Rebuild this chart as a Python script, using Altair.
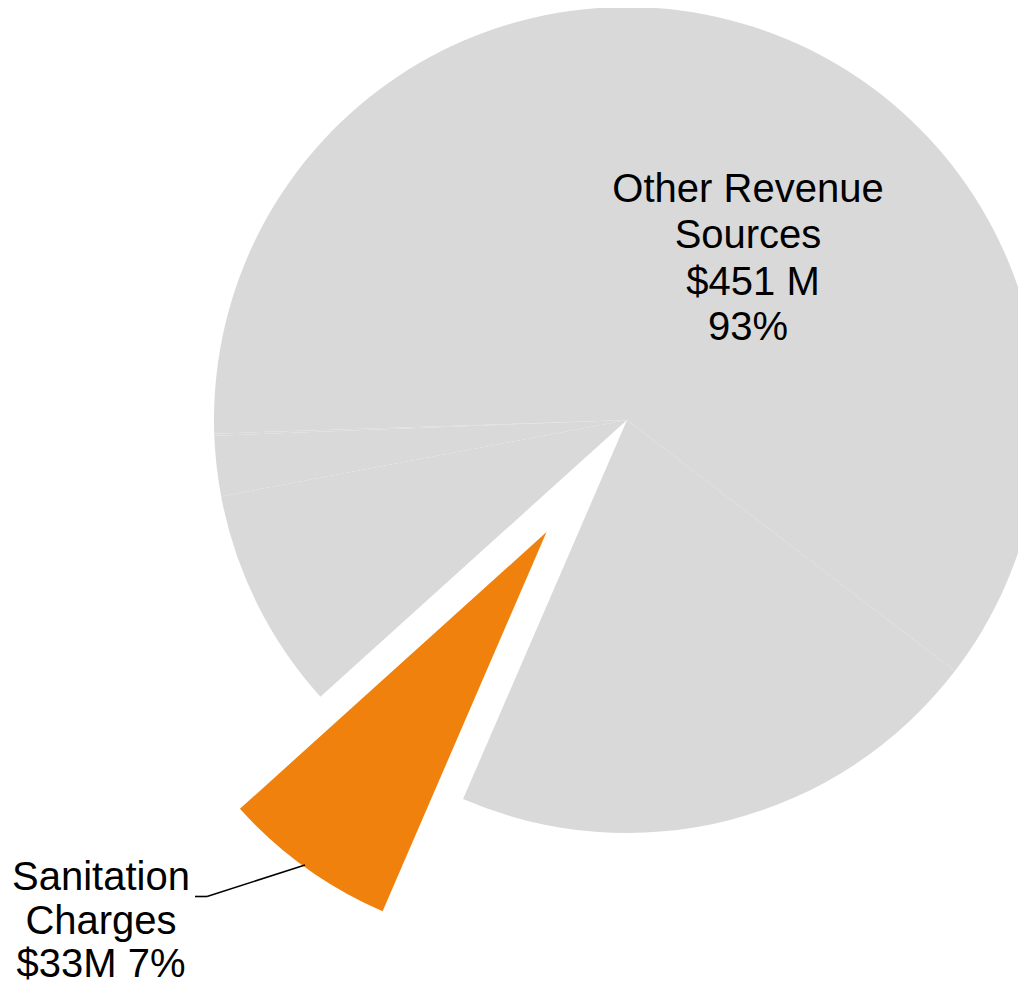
import math
import altair as alt
import pandas as pd

# ---- data ----
slice_names = ["Other A", "Other B", "Sanitation Charges", "Other C", "Other D", "Other E"]
slice_values = [294.9, 102.1, 33.0, 42.2, 11.4, 0.4]
slice_group = ["Other", "Other", "Sanitation", "Other", "Other", "Other"]

other_label_top = ["Other Revenue", "Sources"]
other_label_amount = "$451 M"
other_label_pct = "93%"
sanitation_label = ["Sanitation", "Charges", "$33M 7%"]

# ---- layout / style ----
W, H = 1010, 978
CX, CY = 619, 412
R = 413
START_DEG = 268.1
EXPLODE = 138
GRAY = "#D9D9D9"
ORANGE = "#EF810C"
FONT = "Liberation Sans"

df = pd.DataFrame({
    "name": slice_names,
    "value": slice_values,
    "group": slice_group,
    "idx": list(range(len(slice_values))),
})

total = sum(slice_values)
s_i = slice_group.index("Sanitation")
before = sum(slice_values[:s_i])
mid = math.radians(START_DEG + 360.0 * (before + slice_values[s_i] / 2) / total)
dx = EXPLODE * math.sin(mid)
dy = -EXPLODE * math.cos(mid)

start = math.radians(START_DEG)
theta = alt.Theta("value:Q", stack=True,
                  scale=alt.Scale(domain=[0, total], range=[start, start + 2 * math.pi]))

base = alt.Chart(df)

gray = base.mark_arc(radius=R, fill=GRAY, stroke=None).encode(
    theta=theta,
    order=alt.Order("idx:Q"),
    detail="name:N",
    x=alt.value(CX), y=alt.value(CY),
    opacity=alt.condition("datum.group == 'Sanitation'", alt.value(0), alt.value(1)),
)

orange = base.mark_arc(radius=R, fill=ORANGE, stroke=None).encode(
    theta=theta,
    order=alt.Order("idx:Q"),
    detail="name:N",
    x=alt.value(CX + dx), y=alt.value(CY + dy),
    opacity=alt.condition("datum.group == 'Sanitation'", alt.value(1), alt.value(0)),
)

one = pd.DataFrame({"a": [0]})
txt_style = dict(font=FONT, fontSize=40, align="center", baseline="alphabetic", color="black")

txt_other1 = alt.Chart(one).mark_text(lineHeight=46, **txt_style).encode(
    x=alt.value(740), y=alt.value(194), text=alt.value(other_label_top))
txt_other2 = alt.Chart(one).mark_text(**txt_style).encode(
    x=alt.value(745), y=alt.value(287), text=alt.value(other_label_amount))
txt_other3 = alt.Chart(one).mark_text(**txt_style).encode(
    x=alt.value(740), y=alt.value(332), text=alt.value(other_label_pct))

txt_san = alt.Chart(one).mark_text(lineHeight=43.5, **txt_style).encode(
    x=alt.value(93), y=alt.value(882), text=alt.value(sanitation_label))

lead1 = alt.Chart(one).mark_rule(color="black", strokeWidth=1.6).encode(
    x=alt.value(187), x2=alt.value(199), y=alt.value(888.5), y2=alt.value(888.5))
lead2 = alt.Chart(one).mark_rule(color="black", strokeWidth=1.6).encode(
    x=alt.value(199), x2=alt.value(297), y=alt.value(888.5), y2=alt.value(857))

chart = alt.layer(gray, orange, lead1, lead2, txt_other1, txt_other2, txt_other3, txt_san).properties(
    width=W, height=H, padding=0, autosize=alt.AutoSizeParams(type="none"),
    background="white",
).configure_view(stroke=None)

chart.save("out.html", embed_options={"renderer": "svg", "actions": False})
